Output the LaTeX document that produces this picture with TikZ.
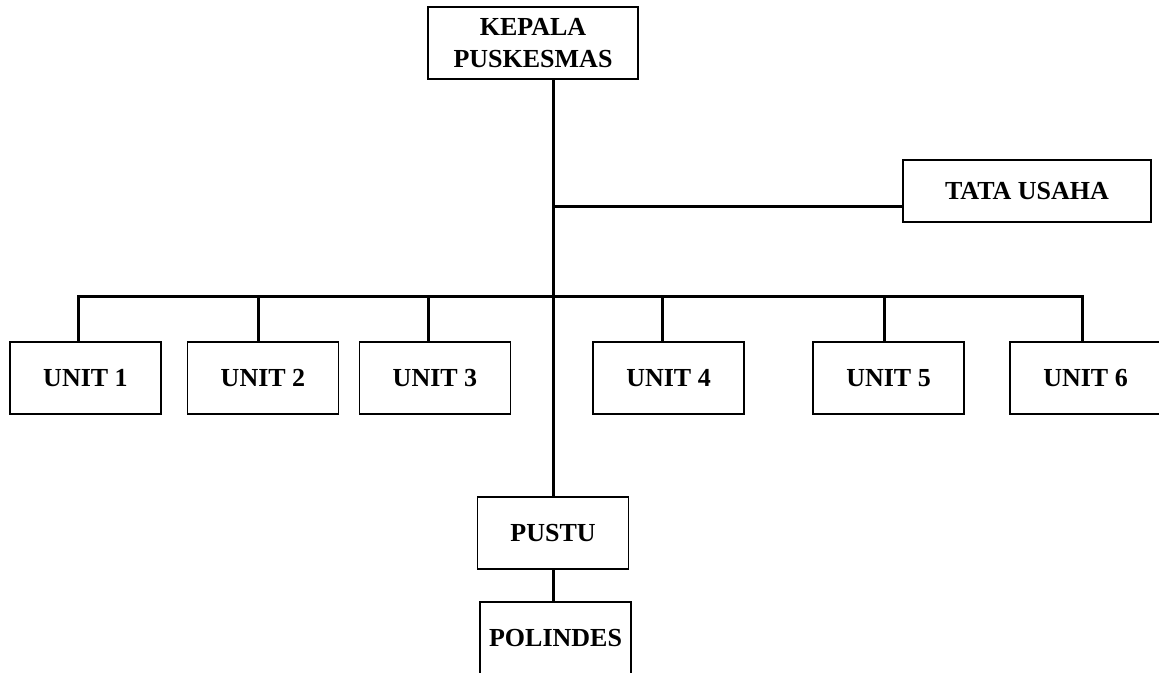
\documentclass[tikz,border=0pt]{standalone}
\usepackage{fontspec}
\setmainfont{Liberation Serif}
\usetikzlibrary{positioning}

\begin{document}
\begin{tikzpicture}[
    x=1pt, y=-1pt,
    box/.style={rectangle, draw=black, line width=1.8pt, align=center, inner sep=0pt, font=\fontsize{26}{32}\selectfont\bfseries},
    unit/.style={box, minimum width=151pt, minimum height=72pt},
    line/.style={line width=3pt}
]
\useasboundingbox (0,0) rectangle (1159,672);

\node[box, minimum width=210pt, minimum height=72pt] (kepala) at (533,43) {KEPALA\\PUSKESMAS};
\node[box, minimum width=248pt, minimum height=62pt] (tatausaha) at (1027,191) {TATA USAHA};

\node[unit] (unit1) at (85.5,378) {UNIT 1};
\node[unit] (unit2) at (263,378) {UNIT 2};
\node[unit] (unit3) at (435,378) {UNIT 3};
\node[unit] (unit4) at (668.5,378) {UNIT 4};
\node[unit] (unit5) at (888.5,378) {UNIT 5};
\node[unit] (unit6) at (1085.5,378) {UNIT 6};

\node[unit] (pustu) at (553,533) {PUSTU};
\node[unit] (polindes) at (555.5,638) {POLINDES};

\coordinate (tujoin) at (553,206);
\coordinate (bar1) at (78,296);
\coordinate (bar2) at (258,296);
\coordinate (bar3) at (428,296);
\coordinate (bar4) at (662,296);
\coordinate (bar5) at (884,296);
\coordinate (bar6) at (1082,296);

\draw[line] (kepala.south -| pustu.north) -- (pustu.north);
\draw[line] (tujoin) -- (tujoin -| tatausaha.west);
\draw[line] (unit1.north -| bar1) -- (bar1) -- (bar6) -- (unit6.north -| bar6);
\draw[line] (bar2) -- (unit2.north -| bar2);
\draw[line] (bar3) -- (unit3.north -| bar3);
\draw[line] (bar4) -- (unit4.north -| bar4);
\draw[line] (bar5) -- (unit5.north -| bar5);
\draw[line] (pustu.south) -- (polindes.north -| pustu.south);

\end{tikzpicture}
\end{document}
